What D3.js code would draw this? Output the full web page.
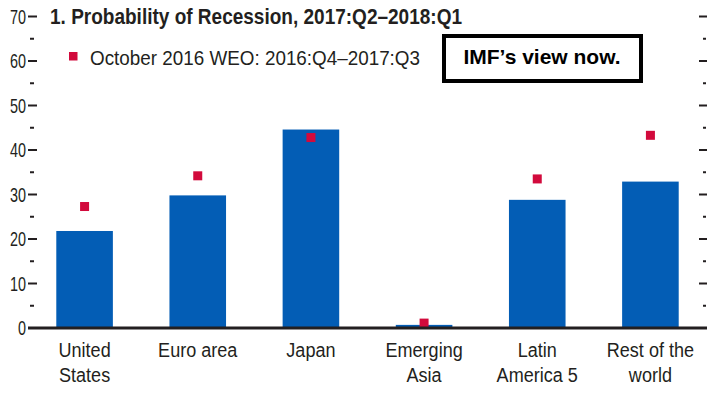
<!DOCTYPE html>
<html>
<head>
<meta charset="utf-8">
<script src="https://cdn.jsdelivr.net/npm/d3@7"></script>
<style>
  html, body { margin: 0; padding: 0; background: #fff; }
  svg { display: block; }
</style>
</head>
<body>
<div id="chart"></div>
<script>
// data
const categories = ['United States', 'Euro area', 'Japan', 'Emerging Asia', 'Latin America 5', 'Rest of the world'];
const categoryLines = [['United', 'States'], ['Euro area'], ['Japan'], ['Emerging', 'Asia'], ['Latin', 'America 5'], ['Rest of the', 'world']];
const recessionNow = [21.8, 29.8, 44.6, 0.7, 28.8, 32.9];
const october2016 = [27.3, 34.2, 42.8, 1.1, 33.5, 43.3];
const majorTicks = [0, 10, 20, 30, 40, 50, 60, 70];
const minorTicks = [5, 15, 25, 35, 45, 55, 65];

const titleText = '1. Probability of Recession, 2017:Q2\u20132018:Q1';
const legendText = 'October 2016 WEO: 2016:Q4\u20132017:Q3';
const noteText = 'IMF\u2019s view now.';

const width = 724, height = 399;
const blue = '#035db5', red = '#d20a3c', ink = '#231f20';
// no condensed face is installed, so the text is squeezed horizontally
const font = "'Liberation Sans', Arial, sans-serif";

const svg = d3.select('#chart').append('svg')
  .attr('width', width)
  .attr('height', height);

const x = d3.scaleBand()
  .domain(categories)
  .range([28, 707])
  .paddingInner(0.5)
  .paddingOuter(0.25);

const y = d3.scaleLinear()
  .domain([0, 70])
  .range([328, 16.5]);

// bars
svg.append('g').selectAll('rect')
  .data(categories)
  .join('rect')
    .attr('x', d => x(d))
    .attr('y', (d, i) => y(recessionNow[i]))
    .attr('width', x.bandwidth())
    .attr('height', (d, i) => y(0) - y(recessionNow[i]))
    .attr('fill', blue);

// october 2016 markers
const sq = 9;
svg.append('g').selectAll('rect')
  .data(categories)
  .join('rect')
    .attr('x', d => x(d) + x.bandwidth() / 2 - sq / 2)
    .attr('y', (d, i) => y(october2016[i]) - sq / 2)
    .attr('width', sq)
    .attr('height', sq)
    .attr('fill', red);

// left axis
const leftAxis = svg.append('g').attr('transform', 'translate(28,0)');
leftAxis.selectAll('line.major')
  .data(majorTicks)
  .join('line')
    .attr('class', 'major')
    .attr('x1', 0).attr('x2', 9)
    .attr('y1', d => y(d)).attr('y2', d => y(d))
    .attr('stroke', ink).attr('stroke-width', 2);
leftAxis.selectAll('line.minor')
  .data(minorTicks)
  .join('line')
    .attr('class', 'minor')
    .attr('x1', 2).attr('x2', 6)
    .attr('y1', d => y(d)).attr('y2', d => y(d))
    .attr('stroke', ink).attr('stroke-width', 2);
leftAxis.selectAll('text')
  .data(majorTicks)
  .join('text')
    .attr('transform', d => `translate(-2,${y(d)}) scale(0.72,1)`)
    .attr('dy', '0.36em')
    .attr('text-anchor', 'end')
    .attr('font-family', font)
    .attr('font-size', 20)
    .attr('fill', ink)
    .text(d => d);

// right axis ticks
const rightAxis = svg.append('g').attr('transform', 'translate(707,0)');
rightAxis.selectAll('line.major')
  .data(majorTicks)
  .join('line')
    .attr('class', 'major')
    .attr('x1', -8).attr('x2', 0)
    .attr('y1', d => y(d)).attr('y2', d => y(d))
    .attr('stroke', ink).attr('stroke-width', 2);
rightAxis.selectAll('line.minor')
  .data(minorTicks)
  .join('line')
    .attr('class', 'minor')
    .attr('x1', -4).attr('x2', -1)
    .attr('y1', d => y(d)).attr('y2', d => y(d))
    .attr('stroke', ink).attr('stroke-width', 2);

// zero line
svg.append('line')
  .attr('x1', 28).attr('x2', 707)
  .attr('y1', y(0)).attr('y2', y(0))
  .attr('stroke', ink)
  .attr('stroke-width', 3);

// category labels
const catLabels = svg.append('g').selectAll('text')
  .data(categories)
  .join('text')
    .attr('transform', d => `translate(${x(d) + x.bandwidth() / 2},357) scale(0.86,1)`)
    .attr('text-anchor', 'middle')
    .attr('font-family', font)
    .attr('font-size', 21)
    .attr('fill', ink);
catLabels.selectAll('tspan')
  .data((d, i) => categoryLines[i])
  .join('tspan')
    .attr('x', 0)
    .attr('y', (d, j) => j * 25)
    .text(d => d);

// title
svg.append('text')
  .attr('x', 50)
  .attr('y', 24)
  .attr('font-family', font)
  .attr('font-weight', 'bold')
  .attr('font-size', 22)
  .attr('fill', ink)
  .attr('textLength', 412)
  .attr('lengthAdjust', 'spacingAndGlyphs')
  .text(titleText);

// legend
svg.append('rect')
  .attr('x', 69).attr('y', 52)
  .attr('width', 8.5).attr('height', 8.5)
  .attr('fill', red);
svg.append('text')
  .attr('x', 90)
  .attr('y', 65)
  .attr('font-family', font)
  .attr('font-size', 21)
  .attr('fill', ink)
  .attr('textLength', 330)
  .attr('lengthAdjust', 'spacingAndGlyphs')
  .text(legendText);

// annotation box
svg.append('rect')
  .attr('x', 444).attr('y', 36)
  .attr('width', 197).attr('height', 45)
  .attr('fill', '#fff')
  .attr('stroke', '#000')
  .attr('stroke-width', 4);
svg.append('text')
  .attr('x', 542)
  .attr('y', 64)
  .attr('text-anchor', 'middle')
  .attr('font-family', font)
  .attr('font-weight', 'bold')
  .attr('font-size', 21)
  .attr('fill', '#000')
  .text(noteText);
</script>
</body>
</html>
